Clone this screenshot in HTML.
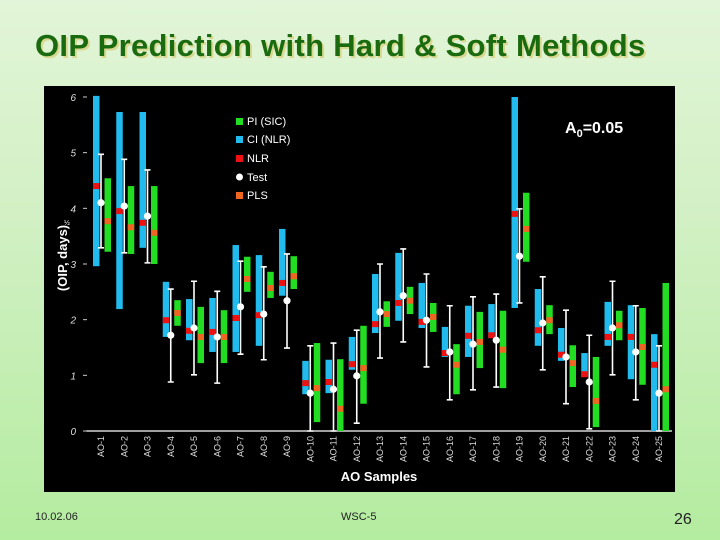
<!DOCTYPE html>
<html><head><meta charset="utf-8">
<style>
html,body{margin:0;padding:0}
body{width:720px;height:540px;overflow:hidden;background:linear-gradient(#e2f5d8,#d2f0c4 40%,#b4eca0);font-family:"Liberation Sans",sans-serif;position:relative}
.t{position:absolute}
</style></head><body>
<div class="t" style="left:35px;top:28px;font-size:31px;font-weight:bold;color:#1a6a10;text-shadow:2px 2px 0 #d8d890;letter-spacing:0.3px;white-space:nowrap">OIP Prediction with Hard &amp; Soft Methods</div>
<svg class="t" style="left:0;top:0" width="720" height="540">
<rect x="44" y="86" width="631" height="406" fill="#000"/>
<g id="axes"></g><g id="marks"></g>
<g font-size="11" fill="#fff">
<rect x="236" y="118" width="7" height="7" fill="#22dd22"/><text x="247" y="125">PI (SIC)</text>
<rect x="236" y="136" width="7" height="7" fill="#22bbee"/><text x="247" y="143">CI (NLR)</text>
<rect x="236" y="155" width="7" height="7" fill="#ee1111"/><text x="247" y="162">NLR</text>
<circle cx="239.5" cy="177" r="3.5" fill="#fff"/><text x="247" y="181">Test</text>
<rect x="236" y="192" width="7" height="7" fill="#ee6622"/><text x="247" y="199">PLS</text>
</g>
<text x="565" y="133" fill="#fff" font-size="16" font-weight="bold">A<tspan font-size="11" dy="4">0</tspan><tspan dy="-4">=0.05</tspan></text>
<text transform="translate(67,258) rotate(-90)" text-anchor="middle" fill="#fff" font-size="13" font-weight="bold">(OIP, days)</text>
<text x="64" y="225" fill="#fff" font-size="7">½</text>
<text x="379" y="481" text-anchor="middle" fill="#fff" font-size="13" font-weight="bold">AO Samples</text>
</svg>
<div class="t" style="left:35px;top:511px;font-size:11px;color:#222">10.02.06</div>
<div class="t" style="left:341px;top:511px;font-size:11px;color:#222">WSC-5</div>
<div class="t" style="left:674px;top:511px;font-size:16px;color:#222">26</div>
<script>
const categories=["AO-1","AO-2","AO-3","AO-4","AO-5","AO-6","AO-7","AO-8","AO-9","AO-10","AO-11","AO-12","AO-13","AO-14","AO-15","AO-16","AO-17","AO-18","AO-19","AO-20","AO-21","AO-22","AO-23","AO-24","AO-25"];
const ciHigh=[6.02,5.73,5.73,2.68,2.37,2.39,3.34,3.16,3.63,1.26,1.28,1.69,2.82,3.20,2.66,1.87,2.25,2.28,6.00,2.55,1.85,1.40,2.32,2.26,1.74];
const ciLow=[2.96,2.19,3.29,1.69,1.63,1.42,1.42,1.53,2.43,0.66,0.68,1.10,1.76,1.98,1.85,1.33,1.33,1.67,2.21,1.53,1.26,0.97,1.53,0.93,0];
const nlr=[4.40,3.95,3.74,1.99,1.80,1.78,2.03,2.08,2.66,0.86,0.88,1.20,1.92,2.30,1.96,1.40,1.71,1.72,3.90,1.81,1.37,1.02,1.69,1.69,1.19];
const piHigh=[4.54,4.40,4.40,2.35,2.23,2.17,3.13,2.86,3.14,1.58,1.29,1.89,2.33,2.59,2.30,1.56,2.14,2.16,4.28,2.26,1.54,1.33,2.16,2.21,2.66];
const piLow=[3.22,3.18,3.00,1.89,1.22,1.22,2.50,2.39,2.55,0.16,0,0.49,1.87,2.10,1.78,0.66,1.13,0.77,3.04,1.74,0.79,0.07,1.63,0.83,0];
const pls=[3.77,3.66,3.56,2.12,1.69,1.69,2.73,2.57,2.78,0.77,0.40,1.13,2.10,2.34,2.05,1.19,1.60,1.46,3.63,1.99,1.22,0.54,1.90,1.51,0.75];
const test=[4.10,4.04,3.86,1.72,1.85,1.69,2.23,2.10,2.34,0.68,0.75,0.99,2.14,2.43,1.99,1.42,1.56,1.63,3.14,1.94,1.33,0.88,1.85,1.42,0.68];
const errHigh=[4.97,4.88,4.69,2.55,2.69,2.51,3.05,2.95,3.18,1.53,1.58,1.81,3.00,3.27,2.82,2.25,2.41,2.46,3.99,2.77,2.17,1.72,2.69,2.25,1.53];
const errLow=[3.29,3.20,3.02,0.88,1.01,0.86,1.38,1.28,1.49,0,0,0.14,1.31,1.60,1.15,0.56,0.74,0.79,2.30,1.10,0.49,0.04,1.01,0.56,0];
const yTicks=[0,1,2,3,4,5,6];
const NS="http://www.w3.org/2000/svg";
const y=v=>431-v*55.67;
const x=i=>101+i*23.25;
function mk(p,t,a){const e=document.createElementNS(NS,t);for(const k in a)e.setAttribute(k,a[k]);p.appendChild(e);return e;}
const ax=document.getElementById('axes'),mg=document.getElementById('marks');
const base=mk(ax,'line',{x1:86,x2:672,y1:431,y2:431,stroke:'#fff','stroke-width':1.2});


yTicks.forEach(v=>{
 const tk=mk(ax,'line',{x1:83,x2:87,y1:y(v),y2:y(v),stroke:'#ccc','stroke-width':1});
 
 
 const tl=mk(ax,'text',{x:76,y:y(v)+4,fill:'#ddd','font-size':10,'font-style':'italic','text-anchor':'end'});
 
 
 tl.textContent=v;
});
categories.forEach((c,i)=>{
 const cx=x(i);
 const lb=mk(ax,'text',{transform:`translate(${cx+3},436) rotate(-90)`,fill:'#ddd','font-size':9,'text-anchor':'end'});
 
 
 lb.textContent=c;
 const g=mk(mg,'g',{});
 
 
 const ci=mk(g,'rect',{x:cx-8,y:y(ciHigh[i]),width:6.5,height:y(ciLow[i])-y(ciHigh[i]),fill:'#22bbee'});
 
 
 const nr=mk(g,'rect',{x:cx-8,y:y(nlr[i])-3,width:6.5,height:6,fill:'#ee1111'});
 
 
 const pi=mk(g,'rect',{x:cx+3.5,y:y(piHigh[i]),width:6.5,height:y(piLow[i])-y(piHigh[i]),fill:'#22dd22'});
 
 
 const pl=mk(g,'rect',{x:cx+3.5,y:y(pls[i])-3,width:6.5,height:6,fill:'#ee6622'});
 
 
 const el=mk(g,'path',{d:`M${cx-3},${y(errHigh[i])}H${cx+3}M${cx},${y(errHigh[i])}V${y(errLow[i])}M${cx-3},${y(errLow[i])}H${cx+3}`,stroke:'#fff','stroke-width':1.6,fill:'none'});
 
 
 const d=mk(g,'circle',{cx:cx,cy:y(test[i]),r:3.6,fill:'#fff'});
 
 
});
</script>
</body></html>
